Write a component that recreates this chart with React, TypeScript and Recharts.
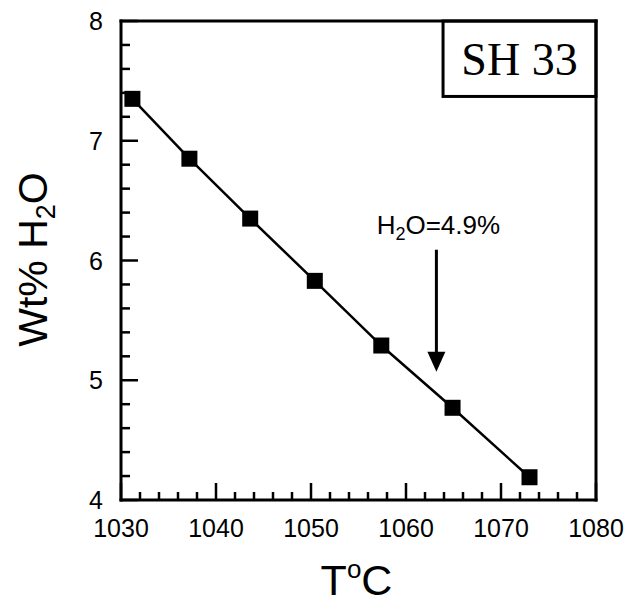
import { LineChart, Line, XAxis, YAxis, ReferenceArea, ReferenceLine, Label } from "recharts";

// run temperatures (°C) and computed H2O content (wt%)
const temperature = [1031.2, 1037.2, 1043.6, 1050.4, 1057.4, 1064.9, 1073.0];
const waterWt = [7.35, 6.85, 6.35, 5.83, 5.29, 4.77, 4.19];

const xTicks = [
  1030, 1032, 1034, 1036, 1038, 1040, 1042, 1044, 1046, 1048, 1050, 1052, 1054,
  1056, 1058, 1060, 1062, 1064, 1066, 1068, 1070, 1072, 1074, 1076, 1078, 1080,
];
const yTicks = [
  4, 4.2, 4.4, 4.6, 4.8, 5, 5.2, 5.4, 5.6, 5.8, 6, 6.2, 6.4, 6.6, 6.8, 7, 7.2,
  7.4, 7.6, 7.8, 8,
];
const xDomain = [1030, 1080];
const yDomain = [4, 8];

const sampleName = "SH 33";
const nameBoxT = [1063.9, 1080];
const nameBoxWt = [7.37, 8];

// arrow marking the measured water content
const arrowT = 1063.2;
const arrowWt = [6.09, 5.07];
const arrowText = ["H", "2", "O=4.9%"];

const data = temperature.map((t, i) => ({ t, wt: waterWt[i] }));
// tick marks are drawn as dots of two invisible helper series on the frame edges
const xTickData = xTicks.map((t) => ({ t, edge: yDomain[0] }));
const yTickData = yTicks.map((w) => ({ t: xDomain[0], edge: w }));

const SANS = "'Liberation Sans', Arial, Helvetica, sans-serif";

function XMarkDot(p: any) {
  const v = p.payload.t;
  const len = v % 10 === 0 ? 17 : 8;
  return <line key={`xm${p.index}`} x1={p.cx} x2={p.cx} y1={p.cy} y2={p.cy - len} stroke="#000" strokeWidth={2.5} />;
}

function YMarkDot(p: any) {
  const v = p.payload.edge;
  const len = Number.isInteger(v) ? 17 : 9;
  return <line key={`ym${p.index}`} x1={p.cx} x2={p.cx + len} y1={p.cy} y2={p.cy} stroke="#000" strokeWidth={2.5} />;
}

function Edge({ x1, x2, y1, y2 }: any) {
  return <line x1={x1} x2={x2} y1={y1} y2={y2} stroke="#000" strokeWidth={3} strokeLinecap="square" />;
}

function Box({ x, y, width, height }: any) {
  return <rect x={x} y={y} width={width} height={height} fill="#fff" stroke="#000" strokeWidth={3} />;
}

function XTick({ x, y, payload }: any) {
  const v = payload.value;
  if (v % 10 !== 0) return <g />;
  return (
    <text x={x} y={y + 37} textAnchor="middle" fontSize={25} fontFamily={SANS} fill="#000">
      {v}
    </text>
  );
}

function YTick({ x, y, payload }: any) {
  const v = payload.value;
  if (!Number.isInteger(v)) return <g />;
  return (
    <text x={x - 18} y={y} dy="0.36em" textAnchor="end" fontSize={25} fontFamily={SANS} fill="#000">
      {v}
    </text>
  );
}

function Square(p: any) {
  return <rect key={p.index} x={p.cx - 8} y={p.cy - 8} width={16} height={16} fill="#000" />;
}

function Arrow({ x1, y1, x2, y2 }: any) {
  const top = Math.min(y1, y2);
  const tip = Math.max(y1, y2);
  return (
    <g>
      <line x1={x1} x2={x2} y1={top} y2={tip - 18} stroke="#000" strokeWidth={3} />
      <polygon points={`${x1 - 9},${tip - 20} ${x1 + 9},${tip - 20} ${x1},${tip}`} fill="#000" />
      <text x={x1 + 2} y={top - 16} textAnchor="middle" fontSize={26} fontFamily={SANS} fill="#000">
        {arrowText[0]}
        <tspan fontSize={18} dy={6}>{arrowText[1]}</tspan>
        <tspan dy={-6}>{arrowText[2]}</tspan>
      </text>
    </g>
  );
}

export default function App() {
  return (
    <div style={{ position: "absolute", left: 0, top: 0, background: "#fff" }}>
      <LineChart width={629} height={605} data={data} margin={{ top: 21, right: 33, left: 0, bottom: 0 }}>
        <XAxis
          dataKey="t"
          type="number"
          domain={xDomain}
          ticks={xTicks}
          interval={0}
          axisLine={false}
          tickLine={false}
          tickSize={0}
          tickMargin={0}
          height={105}
          tick={<XTick />}
        >
          <Label
            content={({ viewBox }: any) => (
              <text
                x={viewBox.x + viewBox.width / 2 - 2}
                y={viewBox.y + 95}
                textAnchor="middle"
                fontSize={43}
                fontFamily={SANS}
                fill="#000"
              >
                T
                <tspan fontSize={26} dy={-17}>o</tspan>
                <tspan dy={17}>C</tspan>
              </text>
            )}
          />
        </XAxis>
        <YAxis
          type="number"
          domain={yDomain}
          ticks={yTicks}
          interval={0}
          axisLine={false}
          tickLine={false}
          tickSize={0}
          tickMargin={0}
          width={121}
          tick={<YTick />}
        >
          <Label
            content={({ viewBox }: any) => {
              const cx = 47;
              const cy = viewBox.y + viewBox.height / 2 - 1;
              return (
                <text
                  x={cx}
                  y={cy}
                  transform={`rotate(-90, ${cx}, ${cy})`}
                  textAnchor="middle"
                  fontSize={41}
                  fontFamily={SANS}
                  fill="#000"
                >
                  Wt% H
                  <tspan fontSize={27} dy={8}>2</tspan>
                  <tspan dy={-8}>O</tspan>
                </text>
              );
            }}
          />
        </YAxis>
        {xDomain.map((v) => (
          <ReferenceLine key={`xe${v}`} x={v} ifOverflow="visible" shape={<Edge />} />
        ))}
        {yDomain.map((v) => (
          <ReferenceLine key={`ye${v}`} y={v} ifOverflow="visible" shape={<Edge />} />
        ))}
        <ReferenceArea
          x1={nameBoxT[0]}
          x2={nameBoxT[1]}
          y1={nameBoxWt[0]}
          y2={nameBoxWt[1]}
          ifOverflow="visible"
          shape={<Box />}
          label={{
            value: sampleName,
            position: "center",
            fontSize: 46,
            fontFamily: "'Liberation Serif', 'Times New Roman', serif",
            fill: "#000",
          }}
        />
        <ReferenceLine
          segment={[
            { x: arrowT, y: arrowWt[0] },
            { x: arrowT, y: arrowWt[1] },
          ]}
          shape={<Arrow />}
        />
        <Line
          data={xTickData}
          dataKey="edge"
          stroke="none"
          dot={XMarkDot}
          activeDot={false}
          isAnimationActive={false}
        />
        <Line
          data={yTickData}
          dataKey="edge"
          stroke="none"
          dot={YMarkDot}
          activeDot={false}
          isAnimationActive={false}
        />
        <Line
          dataKey="wt"
          type="linear"
          stroke="#000"
          strokeWidth={2.5}
          dot={Square}
          activeDot={false}
          isAnimationActive={false}
        />
      </LineChart>
    </div>
  );
}
